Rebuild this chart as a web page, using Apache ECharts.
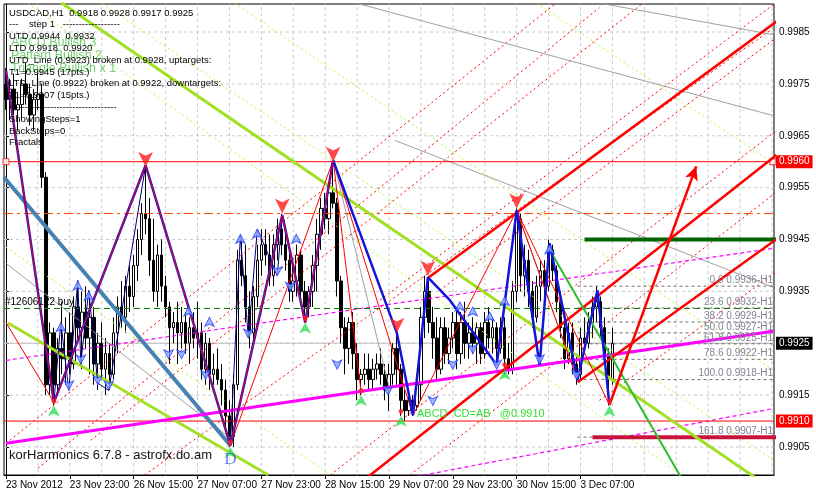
<!DOCTYPE html>
<html><head><meta charset="utf-8">
<script src="https://cdn.jsdelivr.net/npm/echarts@6/dist/echarts.min.js"></script>
<style>html,body{margin:0;padding:0;background:#fff}#c{width:816px;height:495px}</style>
</head><body><div id="c"></div>
<script>
// ---------- DATA ----------
const tickLabels = ["23 Nov 2012","23 Nov 23:00","26 Nov 15:00","27 Nov 07:00","27 Nov 23:00","28 Nov 15:00","29 Nov 07:00","29 Nov 23:00","30 Nov 15:00","3 Dec 07:00"];
const barsPerLabel = 16;
const slotCount = 193;

const opens = [.9975,.9972,.9974,.9970,.9971,.9975,.9973,.9969,.9972,.9973,
.9957,.9917,.9927,.9917,.9924,.9922,.9927,.9921,.9932,.9928,
.9931,.9926,.9930,.9921,.9925,.9920,.9923,.9919,.9927,.9932,
.9930,.9936,.9934,.9940,.9945,.9950,.9949,.9941,.9935,.9942,
.9936,.9932,.9928,.9929,.9927,.9929,.9925,.9928,.9926,.9927,
.9920,.9925,.9919,.9920,.9918,.9916,.9911,.9907,.9917,.9941,
.9938,.9932,.9927,.9934,.9941,.9944,.9942,.9938,.9944,.9947,
.9944,.9941,.9935,.9937,.9942,.9935,.9932,.9935,.9940,.9946,
.9951,.9949,.9954,.9952,.9937,.9928,.9924,.9929,.9923,.9918,
.9919,.9920,.9918,.9920,.9921,.9919,.9916,.9919,.9924,.9920,
.9914,.9912,.9914,.9913,.9917,.9930,.9935,.9929,.9926,.9920,
.9928,.9923,.9926,.9929,.9923,.9929,.9925,.9927,.9925,.9928,
.9923,.9929,.9926,.9928,.9924,.9928,.9922,.9920,.9935,.9949,
.9938,.9941,.9935,.9930,.9936,.9939,.9936,.9943,.9939,.9933,
.9928,.9922,.9927,.9921,.9919,.9926,.9925,.9929,.9932,.9933,
.9928,.9923,.9918];
const highs = [.9978,.9976,.9977,.9973,.9976,.9979,.9975,.9974,.9977,.9975,
.9958,.9929,.9928,.9926,.9933,.9930,.9931,.9934,.9937,.9935,
.9936,.9934,.9932,.9927,.9929,.9926,.9925,.9930,.9934,.9937,
.9938,.9940,.9942,.9947,.9952,.9959,.9953,.9949,.9944,.9945,
.9938,.9933,.9931,.9933,.9932,.9931,.9930,.9931,.9933,.9929,
.9927,.9926,.9923,.9924,.9921,.9918,.9914,.9919,.9943,.9945,
.9944,.9935,.9936,.9944,.9947,.9947,.9946,.9946,.9949,.9950,
.9947,.9944,.9940,.9944,.9943,.9937,.9936,.9942,.9949,.9953,
.9954,.9956,.9960,.9953,.9938,.9930,.9930,.9931,.9925,.9920,
.9923,.9923,.9922,.9923,.9924,.9921,.9921,.9925,.9927,.9921,
.9916,.9916,.9915,.9919,.9932,.9938,.9937,.9932,.9930,.9930,
.9930,.9928,.9931,.9932,.9931,.9933,.9929,.9930,.9929,.9929,
.9931,.9932,.9930,.9929,.9930,.9930,.9925,.9937,.9951,.9950,
.9944,.9943,.9937,.9938,.9941,.9941,.9945,.9944,.9940,.9935,
.9930,.9929,.9929,.9923,.9928,.9930,.9931,.9934,.9936,.9934,
.9930,.9924,.9928];
const lows = [.9970,.9968,.9969,.9966,.9968,.9971,.9967,.9966,.9970,.9955,
.9915,.9915,.9913,.9915,.9919,.9917,.9919,.9920,.9925,.9920,
.9924,.9919,.9917,.9916,.9918,.9915,.9916,.9918,.9923,.9928,
.9927,.9931,.9932,.9937,.9942,.9946,.9938,.9933,.9932,.9933,
.9930,.9921,.9925,.9921,.9924,.9923,.9921,.9924,.9922,.9918,
.9917,.9916,.9917,.9917,.9913,.9909,.9905,.9905,.9916,.9936,
.9929,.9924,.9925,.9932,.9938,.9940,.9936,.9936,.9941,.9942,
.9939,.9933,.9933,.9934,.9933,.9929,.9930,.9932,.9935,.9943,
.9947,.9946,.9951,.9934,.9925,.9919,.9921,.9920,.9914,.9915,
.9917,.9916,.9916,.9918,.9917,.9914,.9912,.9917,.9917,.9911,
.9910,.9911,.9911,.9912,.9914,.9926,.9927,.9922,.9918,.9919,
.9921,.9921,.9924,.9920,.9921,.9922,.9922,.9923,.9921,.9921,
.9922,.9924,.9923,.9921,.9923,.9919,.9919,.9919,.9933,.9935,
.9934,.9932,.9928,.9929,.9933,.9934,.9935,.9937,.9931,.9926,
.9920,.9921,.9919,.9917,.9918,.9923,.9924,.9926,.9929,.9926,
.9921,.9913,.9917];
const closes = [.9972,.9974,.9970,.9971,.9975,.9973,.9969,.9972,.9973,.9957,
.9917,.9927,.9917,.9924,.9922,.9927,.9921,.9932,.9928,.9931,
.9926,.9930,.9921,.9925,.9920,.9923,.9919,.9927,.9932,.9930,
.9936,.9934,.9940,.9945,.9950,.9949,.9941,.9935,.9942,.9936,
.9932,.9928,.9929,.9927,.9929,.9925,.9928,.9926,.9927,.9920,
.9925,.9919,.9920,.9918,.9916,.9911,.9907,.9917,.9941,.9938,
.9932,.9927,.9934,.9941,.9944,.9942,.9938,.9944,.9947,.9944,
.9941,.9935,.9937,.9942,.9935,.9932,.9935,.9940,.9946,.9951,
.9949,.9954,.9952,.9937,.9928,.9924,.9929,.9923,.9918,.9919,
.9920,.9918,.9920,.9921,.9919,.9916,.9919,.9924,.9920,.9914,
.9912,.9914,.9913,.9917,.9930,.9935,.9929,.9926,.9920,.9928,
.9923,.9926,.9929,.9923,.9929,.9925,.9927,.9925,.9928,.9923,
.9929,.9926,.9928,.9924,.9928,.9922,.9920,.9935,.9949,.9938,
.9941,.9935,.9930,.9936,.9939,.9936,.9943,.9939,.9933,.9928,
.9922,.9927,.9921,.9919,.9926,.9925,.9929,.9932,.9933,.9928,
.9923,.9918,.9925];

const priceTicks = [0.9905,0.9915,0.9925,0.9935,0.9945,0.9955,0.9965,0.9975,0.9985];
const priceLabels = [0.9905,0.9915,0.9935,0.9945,0.9955,0.9965,0.9975,0.9985];
const gridBars = [8,16,24,32,40,48,56,64,72,80,88,96,104,112,120,128,136,144,152,160,168,176,184,192];

// overlay objects: [barIndex, price]
const zigzag = [[0,0.99776],[12,0.99136],[35,0.99593],[56.25,0.99053],[69.25,0.99497],[75,0.99290],[82,0.99603],[98,0.99269],[102,0.99111],[105.75,0.99377],[111.25,0.99333],[123,0.99208],[128,0.99506],[133.75,0.99208],[136.25,0.99443],[143.25,0.99179],[148.25,0.99352],[151.25,0.99131]];
const zigzagRed = [[0,0.99776],[12,0.99136],[35,0.99593],[56.25,0.99053],[69.25,0.99497],[75,0.99290],[82,0.99603]];
const fractalZig1 = [[12,0.99136],[13.75,0.99290],[15.75,0.99159],[18,0.99371],[18.75,0.99211],[20.75,0.99352],[23,0.99173],[25.75,0.99159],[35,0.99593]];
const fractalZig2 = [[56.25,0.99053],[58.75,0.99458],[60.75,0.99260],[63,0.99470],[68,0.99381],[69.25,0.99497]];
const redLinks = [
  [[0,0.99290],[12,0.99136]],
  [[56.25,0.99053],[82,0.99603]],
  [[82,0.99603],[102,0.99111]],
  [[82,0.99603],[89,0.99156]],
  [[102,0.99111],[128,0.99506]],
  [[128,0.99506],[143.25,0.99179]],
  [[128,0.99506],[151.25,0.99131]]
];
const grayLinks = [
  [[0,0.99404],[56.25,0.99067]],
  [[86.25,0.99909],[192.25,0.99689]],
  [[145,0.99911],[192.25,0.99845]],
  [[97.5,0.99641],[192.25,0.99358]],
  [[128,0.99506],[143.25,0.99179]],
  [[82,0.99603],[96.25,0.99159]]
];
const magentaTrend = [[0,0.99057],[192.25,0.99273]];
const magentaDash = [[[0,0.99217],[192.25,0.99433]],[[92.5,0.98978],[192.25,0.99124]]];
const limeThick = [[[13.75,0.99907],[188.75,0.98986]],[[0.5,0.99289],[65.75,0.98996]]];
const limeDots = [[[4.5,0.99911],[169.25,0.98996]],[[23,0.99911],[192.25,0.99025]],[[132,0.99911],[192.25,0.99597]],[[0,0.99435],[81.25,0.98996]],[[56.25,0.99911],[192.25,0.99198]]];
const steelBlue = [[-0.5,0.99570],[56.25,0.99053]];
const redThick = [[[105.75,0.99376],[196.25,0.99888]],[[91,0.98994],[196.25,0.99632]],[[143.25,0.99175],[196.25,0.99468]]];
const redDots = [[[0,0.99057],[138.75,0.99911]],[[34.75,0.98996],[192.25,0.99857]],[[8,0.99009],[148.75,0.99897]],[[21.25,0.99063],[160.5,0.99911]],[[93.75,0.99333],[193.75,0.99911]],[[108.75,0.99352],[193.75,0.99843]],[[81.25,0.98996],[193.75,0.99664]],[[101.25,0.98996],[193.75,0.99545]],[[148.75,0.99140],[193.75,0.99391]]];
const greenDrop = [[135.75,0.99437],[169,0.98994]];
const targetArrow = [[151.25,0.99131],[173,0.99591]];
const targetUp = [[145,0.9945],[193,0.9945]];
const targetDown = [[147,0.99069],[193,0.99069]];
const fibStart = 143.25;
const fibLevels = [0.9936,0.99318,0.99291,0.9927,0.99249,0.99219,0.9918,0.99069];
const fibTexts = ["0.0 0.9936-H1","23.6 0.9932-H1","38.2 0.9929-H1","50.0 0.9927-H1","61.8 0.9925-H1","78.6 0.9922-H1","100.0 0.9918-H1","161.8 0.9907-H1"];
const fractalUp = [[13.75,0.9929],[18,0.9937],[20.75,0.9935],[45.75,0.9932],[51,0.9930],[58.75,0.9946],[63,0.9947],[72.75,0.9946],[113.75,0.9933],[117,0.9932],[121.25,0.9931],[125,0.9934],[136.25,0.9944]];
const fractalDown = [[15.75,0.9916],[18.75,0.9921],[23,0.9917],[25.75,0.9916],[40.75,0.9922],[44,0.9922],[50,0.9918],[60.75,0.9926],[68,0.9938],[71.25,0.9935],[83,0.9920],[95.75,0.9915],[107,0.9913],[112,0.9920],[117,0.9923],[123,0.9920],[133.75,0.9921],[143,0.9918]];
const pivotHighs = [[35,0.9959],[69.25,0.9950],[82,0.9960],[98,0.9927],[105.75,0.9938],[128,0.9951]];
const pivotLows = [[12,0.9913],[56.25,0.9905],[75,0.9929],[89,0.9915],[99,0.9911],[125,0.9920],[151.25,0.9913]];
const pointD = [[56.25,0.9905]];
const resistance = 0.9960, support = 0.9910, bid = 0.9925, stopLevel = 0.9950, buyLevel = 0.99317;
const chartStart = -0.5, chartEnd = 192.5;

const infoLines = ["USDCAD,H1  0.9918 0.9928 0.9917 0.9925","---    step 1   ------------------","UTD 0.9944  0.9932","LTD 0.9918  0.9920","UTD_Line (0.9923) broken at 0.9928, uptargets:","T1=0.9945 (17pts.)","LTD_Line (0.9922) broken at 0.9922, downtargets:","T1=0.9907 (15pts.)","----------------------------------","ShowingSteps=1","BackSteps=0","Fractals"];
const patternLines = ["ABCD Bullish 3","Pattern Bullish 2","Triangle Bullish x 1"];

// ---------- CHART ----------
const FONT = 'Liberation Sans, Arial, sans-serif';
const CLEAR = 'rgba(0,0,0,0)';
const chart = echarts.init(document.getElementById('c'));
const categories = Array.from({length: slotCount}, (_, k) => String(k));
const series = [];
function L(points, color, width, type, z, extra) {
  series.push(Object.assign({type:'line', xAxisIndex:1, data:points, showSymbol:false, silent:true, clip:true,
    lineStyle:{color:color, width:width, type:type||'solid'}, z:z||4, animation:false}, extra||{}));
}
function H(price, color, width, type, z) { L([[chartStart, price],[chartEnd, price]], color, width, type, z); }
function host(markLine, z) {
  series.push({type:'line', xAxisIndex:1, data:[[0,0.995]], showSymbol:false, silent:true,
    lineStyle:{opacity:0}, z:z, markLine:Object.assign({silent:true, symbol:'none', animation:false, precision:6, z:z}, markLine)});
}
function axisTag(price, bg, z) {
  host({label:{show:true, position:'end', formatter:price.toFixed(4), color:'#fff', backgroundColor:bg, padding:[2,3,1,3], fontSize:10, fontFamily:FONT, distance:2},
    lineStyle:{color:CLEAR, width:1, type:'solid'}, data:[{yAxis:price}]}, z);
}
// grid lines
gridBars.forEach(b => L([[b, 0.98990],[b, 0.99910]], '#c8c8c8', 1, [3,3], 1));
priceTicks.forEach(p => H(p, '#c8c8c8', 1, [3,3], 1));
// bid line
H(bid, '#c0c0c0', 1, 'solid', 2);
axisTag(bid, '#000', 6);
// candles
series.push({type:'candlestick', xAxisIndex:0, z:3, barWidth:3, animation:false, silent:true,
  data: opens.map((o,k)=>[o, closes[k], lows[k], highs[k]]),
  itemStyle:{color:'#fff', color0:'#000', borderColor:'#000', borderColor0:'#000', borderWidth:1}});
// dotted lines
limeDots.forEach(s => L(s, '#adff2f', 1, [2,3], 3.5));
redDots.forEach(s => L(s, '#ff0000', 1, [2,3], 3.5));
grayLinks.forEach(s => L(s, '#a0a0a0', 1, 'solid', 3.6));
magentaDash.forEach(s => L(s, '#ff00ff', 1.2, [4,3], 3.6));
// horizontal levels
H(resistance, '#ff0000', 1, 'solid', 4);
H(support, '#ff0000', 1, 'solid', 4);
H(stopLevel, '#ff4500', 1, [9,4,3,4], 4);
H(buyLevel, '#008000', 1, [6,4], 4);
axisTag(resistance, '#ff0000', 6);
axisTag(support, '#ff0000', 6);
series.push({type:'scatter', xAxisIndex:1, data:[[0, resistance],[192.2, resistance]], symbol:'rect', symbolSize:6, silent:true, z:4.1, animation:false,
  itemStyle:{color:'#fff', borderColor:'#ff0000', borderWidth:1}});
host({label:{show:true, position:'insideStartTop', formatter:'#12606122 buy', color:'#000', fontSize:10, fontFamily:FONT, distance:1},
  lineStyle:{color:CLEAR, width:1, type:'solid'}, data:[{yAxis:buyLevel}]}, 6);
fibLevels.forEach(v => L([[fibStart, v],[chartEnd, v]], '#6e6e6e', 1, [3,3], 4));
host({label:{show:true, position:'insideEndTop', formatter:p => fibTexts[p.dataIndex], color:'#7f8494', fontSize:10, fontFamily:FONT, distance:1},
  lineStyle:{color:CLEAR, width:1, type:'solid'},
  data: fibLevels.map(v => [{coord:[fibStart, v]}, {coord:[chartEnd, v]}])}, 6);
// thick lines
L(targetUp, '#006400', 4, 'solid', 4.2);
L(targetDown, '#c8143c', 4, 'solid', 4.2);
limeThick.forEach(s => L(s, '#a2e024', 3, 'solid', 4.3));
L(steelBlue, '#4682b4', 4, 'solid', 4.3);
L(magentaTrend, '#ff00ff', 3, 'solid', 4.4);
redThick.forEach(s => L(s, '#ff0000', 2.5, 'solid', 4.4));
L(greenDrop, '#2ebd2e', 2, 'solid', 4.4);
redLinks.forEach(s => L(s, '#ff0000', 1, 'solid', 4.5));
L(fractalZig1, '#000080', 1, 'solid', 4.6);
L(fractalZig2, '#000080', 1, 'solid', 4.6);
L(zigzag, '#1414dc', 2.5, 'solid', 4.7);
L(zigzagRed, '#ff0000', 1, 'solid', 4.8);
host({symbol:['none','arrow'], symbolSize:[10,14], label:{show:false}, lineStyle:{color:'#ff0000', width:2.5, type:'solid'}, itemStyle:{color:'#ff0000'},
  data:[[{coord:targetArrow[0]},{coord:targetArrow[1]}]]}, 4.8);
// fractal markers
series.push({type:'scatter', xAxisIndex:1, data:fractalUp, symbol:'arrow', symbolSize:[7,9], silent:true, z:5, animation:false,
  itemStyle:{color:'#8fa8ff', borderColor:'#2040ff', borderWidth:1}});
series.push({type:'scatter', xAxisIndex:1, data:fractalDown, symbol:'arrow', symbolRotate:180, symbolSize:[7,9], silent:true, z:5, animation:false,
  itemStyle:{color:'#8fa8ff', borderColor:'#2040ff', borderWidth:1}});
series.push({type:'scatter', xAxisIndex:1, data:pivotHighs, symbol:'arrow', symbolRotate:180, symbolSize:[11,15], silent:true, z:5.5, animation:false,
  itemStyle:{color:'#ff1a1a'}});
series.push({type:'scatter', xAxisIndex:1, data:pivotLows, symbol:'arrow', symbolSize:[9,11], silent:true, z:5.4, animation:false,
  itemStyle:{color:'#33dd55'}});
series.push({type:'scatter', xAxisIndex:1, data:pivotLows, symbol:'pin', symbolSize:8, silent:true, z:5.5, animation:false,
  itemStyle:{color:'#ff1a1a'}});
series.push({type:'scatter', xAxisIndex:1, data:pointD, symbolSize:0, silent:true, z:6, animation:false,
  label:{show:true, formatter:'D', position:'bottom', distance:4, color:'#4169e1', fontSize:17, fontFamily:'Liberation Serif, serif'}});

chart.setOption({
  animation:false,
  backgroundColor:'#fff',
  grid:{left:4, right:42, top:4, bottom:20, show:true, borderColor:'#000', borderWidth:1, backgroundColor:'#fff'},
  xAxis:[{
    type:'category', data:categories, boundaryGap:true,
    axisLine:{show:true, lineStyle:{color:'#000'}},
    axisTick:{show:true, alignWithLabel:true, length:4, lineStyle:{color:'#000'}, interval:(i)=> i % barsPerLabel === 0 && i/barsPerLabel < tickLabels.length},
    axisLabel:{show:true, interval:(i)=> i % barsPerLabel === 0 && i/barsPerLabel < tickLabels.length, align:'left', margin:5, color:'#000', fontSize:10, fontFamily:FONT,
      formatter:(v, i)=> tickLabels[i/barsPerLabel] || ''},
    splitLine:{show:false}
  },{
    type:'value', min:chartStart, max:chartEnd, show:false
  }],
  yAxis:{
    type:'value', position:'right', min:0.98996, max:0.99904, scale:true,
    axisLine:{show:true, lineStyle:{color:'#000'}},
    axisTick:{show:true, length:3, customValues:priceTicks, lineStyle:{color:'#000'}},
    axisLabel:{show:true, customValues:priceLabels, formatter:v=>v.toFixed(4), color:'#000', fontSize:10, fontFamily:FONT, margin:5},
    splitLine:{show:false}
  },
  series: series,
  graphic:[
    {type:'text', left:9, top:7, z:100, silent:true, style:{text:infoLines.join('\n'), fill:'#000', fontSize:9.5, lineHeight:11.8, fontFamily:FONT}},
    {type:'text', left:11, top:36, z:99, silent:true, style:{text:patternLines.join('\n'), fill:'rgba(70,190,70,0.75)', fontSize:12.5, lineHeight:13, fontFamily:FONT}},
    {type:'text', left:9, top:449, z:100, silent:true, style:{text:'korHarmonics 6.7.8 - astrofx.do.am', fill:'#111', fontSize:13, fontFamily:FONT}},
    {type:'text', left:417, top:408, z:100, silent:true, style:{text:'ABCD  CD=AB   @0.9910', fill:'#33dd33', fontSize:11, fontFamily:FONT}}
  ]
});
</script>
</body></html>
